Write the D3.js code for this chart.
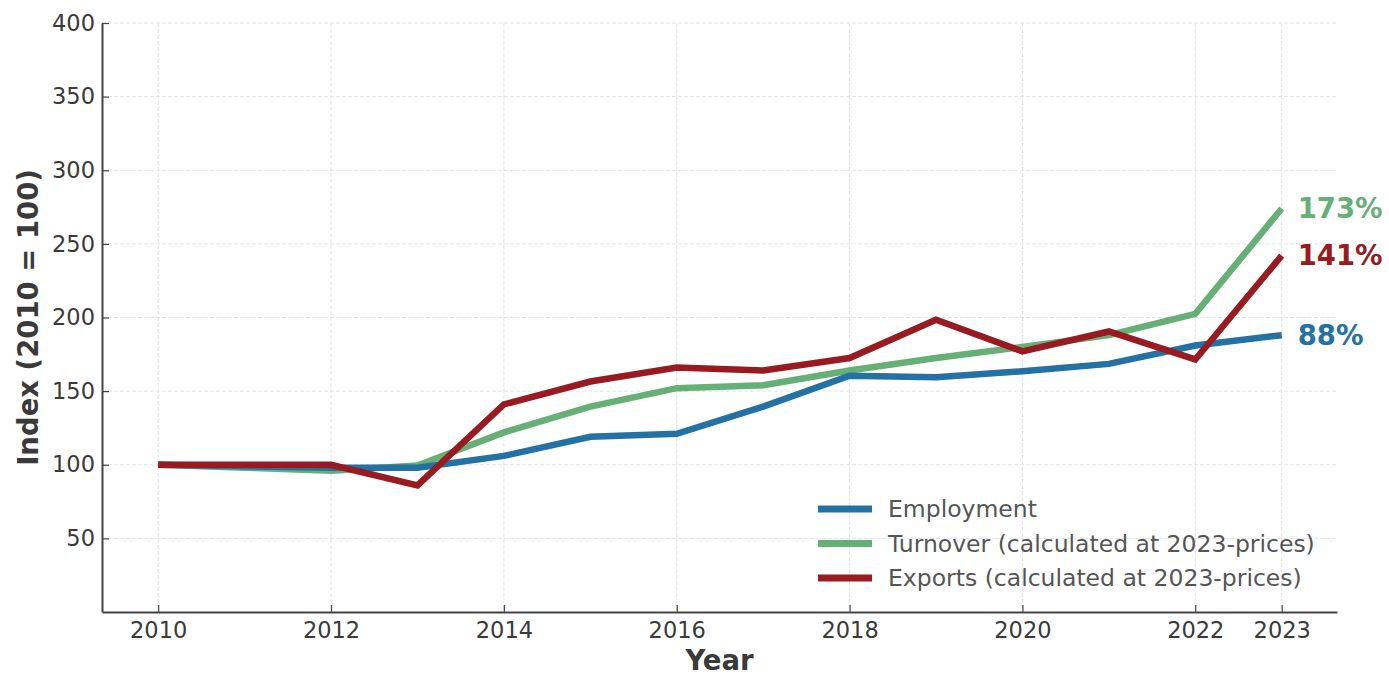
<!DOCTYPE html>
<html>
<head>
<meta charset="utf-8">
<script src="https://cdn.jsdelivr.net/npm/d3@7"></script>
<style>
  body { margin: 0; background: #fff; }
  svg { font-family: "DejaVu Sans", sans-serif; }
</style>
</head>
<body>
<svg width="1389" height="675"></svg>
<script>
// Data
const years = [2010, 2011, 2012, 2013, 2014, 2015, 2016, 2017, 2018, 2019, 2020, 2021, 2022, 2023];
const employment = [100, 99, 98, 98, 106, 119, 121, 139.5, 160.5, 159.5, 163.5, 168.5, 181, 188];
const turnover = [100, 98, 96, 99.5, 122, 139.5, 152, 154, 164, 172.5, 180, 188, 202.5, 274];
const exportsIdx = [100, 100, 100, 86, 141, 156.5, 166, 164, 172.5, 198.5, 177, 190.5, 171.5, 242];
const seriesNames = ["Employment", "Turnover (calculated at 2023-prices)", "Exports (calculated at 2023-prices)"];
const endLabels = ["88%", "173%", "141%"];
const xTicks = [2010, 2012, 2014, 2016, 2018, 2020, 2022, 2023];
const yTicks = [50, 100, 150, 200, 250, 300, 350, 400];

const colors = ["#2471a3", "#66b077", "#981b22"];
const allSeries = [employment, turnover, exportsIdx];

const svg = d3.select("svg");
const margin = { left: 102, right: 52, top: 23, bottom: 63 };
const width = +svg.attr("width");
const height = +svg.attr("height");

const x = d3.scaleLinear().domain([2009.35, 2023.64]).range([margin.left, width - margin.right]);
const y = d3.scaleLinear().domain([0, 400]).range([height - margin.bottom, margin.top]);

// grid
const grid = svg.append("g");
grid.selectAll(".hg")
  .data(yTicks)
  .enter()
  .append("line")
  .attr("x1", margin.left)
  .attr("x2", width - margin.right)
  .attr("y1", (d) => y(d))
  .attr("y2", (d) => y(d))
  .attr("stroke", "#dfe4ea")
  .attr("stroke-width", 1)
  .attr("stroke-dasharray", "4,2");
grid.selectAll(".vg")
  .data(xTicks)
  .enter()
  .append("line")
  .attr("x1", (d) => x(d))
  .attr("x2", (d) => x(d))
  .attr("y1", margin.top)
  .attr("y2", height - margin.bottom)
  .attr("stroke", "#dfe4ea")
  .attr("stroke-width", 1)
  .attr("stroke-dasharray", "4,2");

// axes
const xAxis = svg.append("g")
  .attr("transform", `translate(0,${height - margin.bottom})`)
  .call(d3.axisBottom(x).tickValues(xTicks).tickFormat(d3.format("d")).tickSizeInner(-7).tickSizeOuter(0).tickPadding(10));
const yAxis = svg.append("g")
  .attr("transform", `translate(${margin.left},0)`)
  .call(d3.axisLeft(y).tickValues(yTicks).tickSizeInner(-7).tickSizeOuter(0).tickPadding(7));

[xAxis, yAxis].forEach((g) => {
  g.select(".domain").attr("stroke", "#444").attr("stroke-width", 2);
  g.selectAll(".tick line").attr("stroke", "#444").attr("stroke-width", 1.2);
  g.selectAll(".tick text").attr("fill", "#3a3a3a").style("font-size", "22.5px").style("font-family", "DejaVu Sans");
});

// lines
const line = d3.line()
  .x((d, i) => x(years[i]))
  .y((d) => y(d));

svg.append("g")
  .selectAll("path")
  .data([turnover, employment, exportsIdx])
  .enter()
  .append("path")
  .attr("d", line)
  .attr("fill", "none")
  .attr("stroke", (d) => colors[allSeries.indexOf(d)])
  .attr("stroke-width", 6.5)
  .attr("stroke-linejoin", "miter");

// end labels
svg.append("g")
  .selectAll("text")
  .data(allSeries)
  .enter()
  .append("text")
  .attr("x", x(2023) + 16)
  .attr("y", (d) => y(d[d.length - 1]))
  .attr("dy", "0.35em")
  .attr("fill", (d, i) => colors[i])
  .style("font-size", "27.5px")
  .style("font-weight", "bold")
  .text((d, i) => endLabels[i]);

// legend
const legend = svg.append("g").attr("transform", "translate(818,509)");
seriesNames.forEach((name, i) => {
  const row = legend.append("g").attr("transform", `translate(0,${i * 34.5})`);
  row.append("line")
    .attr("x1", 0).attr("x2", 54)
    .attr("stroke", colors[i])
    .attr("stroke-width", 7);
  row.append("text")
    .attr("x", 70)
    .attr("dy", "0.35em")
    .attr("fill", "#555")
    .style("font-size", "23.5px")
    .text(name);
});

// axis titles
svg.append("text")
  .attr("x", (margin.left + width - margin.right) / 2)
  .attr("y", 670)
  .attr("text-anchor", "middle")
  .attr("fill", "#3a3a3a")
  .style("font-size", "27.5px")
  .style("font-weight", "bold")
  .text("Year");

svg.append("text")
  .attr("transform", `translate(38,${(margin.top + height - margin.bottom) / 2}) rotate(-90)`)
  .attr("text-anchor", "middle")
  .attr("fill", "#3a3a3a")
  .style("font-size", "27.5px")
  .style("font-weight", "bold")
  .text("Index (2010 = 100)");
</script>
</body>
</html>
